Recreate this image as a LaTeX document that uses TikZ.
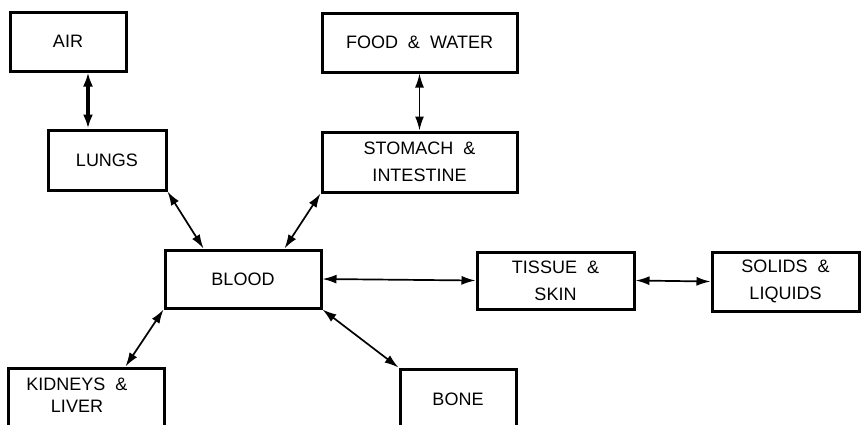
\documentclass[tikz,border=0pt]{standalone}
\usepackage{fontspec}
\setmainfont{Liberation Sans}[WordSpace=2]
\usetikzlibrary{arrows.meta,calc}
\begin{document}
\begin{tikzpicture}[x=1pt,y=-1pt,
  box/.style={draw,line width=3pt,inner sep=0pt,align=center,
    font=\fontsize{18}{27}\selectfont},
  link/.style={{Latex[length=14pt,width=9pt]}-{Latex[length=14pt,width=9pt]},line width=1.7pt},
  thicklink/.style={{Latex[length=14pt,width=10pt]}-{Latex[length=14pt,width=10pt]},line width=3.2pt}]
\clip (0,0) rectangle (863,424);
\fill[white] (0,0) rectangle (863,424);
\node[box,minimum width=116pt,minimum height=59pt] (air) at (68,41.5) {AIR};
\node[box,minimum width=118pt,minimum height=60pt] (lungs) at (107,160) {LUNGS};
\node[box,minimum width=195pt,minimum height=59pt] (food) at (419.5,42.5) {FOOD \& WATER};
\node[box,minimum width=195pt,minimum height=60pt] (stomach) at (419.5,162) {STOMACH \&\\INTESTINE};
\node[box,minimum width=156pt,minimum height=58pt] (blood) at (243,279) {BLOOD};
\node[box,minimum width=157pt,minimum height=57pt] (tissue) at (555.5,280.5) {TISSUE \&\\SKIN};
\node[box,minimum width=147pt,minimum height=59pt] (solids) at (785.5,281.5) {SOLIDS \&\\LIQUIDS};
\node[box,minimum width=156pt,minimum height=62pt,
  label={[font=\fontsize{18}{22}\selectfont,align=center,xshift=-9pt,yshift=4pt]center:KIDNEYS \&\\LIVER}] (kidneys) at (86,399) {};
\node[box,minimum width=116pt,minimum height=60pt] (bone) at (458,399) {BONE};
% connectors
\coordinate (al) at ($(air.south)+(20,0)$);
\draw[thicklink] (al) -- (al |- lungs.north);
\draw[link] (food.south) -- (stomach.north);
\draw[link] (lungs.south east) -- ($(blood.north west)+(40,0)$);
\draw[link] (stomach.south west) -- ($(blood.north east)+(-38,0)$);
\draw[link] (blood.east) -- (tissue.west);
\draw[link] (tissue.east) -- (solids.west);
\draw[link] (blood.south west) -- ($(kidneys.north west)+(119,0)$);
\draw[link] (blood.south east) -- (bone.north west);
\end{tikzpicture}
\end{document}
